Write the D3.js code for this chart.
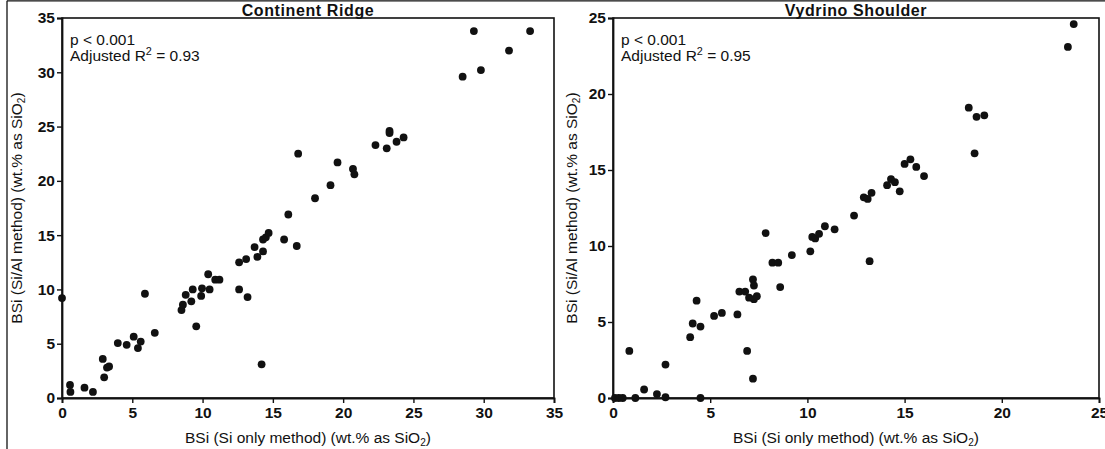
<!DOCTYPE html>
<html>
<head>
<meta charset="utf-8">
<script src="https://cdn.jsdelivr.net/npm/d3@7"></script>
<style>
  html, body { margin: 0; padding: 0; background: #fff; }
  svg { display: block; font-family: "Liberation Sans", Arial, Helvetica, sans-serif; }
</style>
</head>
<body>
<svg id="chart" width="1105" height="449"></svg>
<script>
// BSi measured by the Si-only method (x) vs the Si/Al method (y), wt.% as SiO2
const ridgeSiOnly = [0, 0.57, 0.6, 1.6, 2.2, 3.0, 2.9, 3.35, 3.2, 3.97, 4.6, 5.1, 5.6, 5.4, 5.9, 6.6,
  8.5, 8.6, 8.8, 9.2, 9.3, 9.55, 9.9, 9.96, 10.4, 10.5, 10.9, 11.2, 12.6, 13.1, 12.6, 13.2,
  13.7, 13.9, 14.3, 14.2, 14.3, 14.5, 14.7, 15.8, 16.1, 16.7, 16.8, 18.0, 19.1, 19.6, 20.7,
  20.8, 22.3, 23.1, 23.3, 23.3, 23.8, 24.3, 28.5, 29.3, 29.8, 31.8, 33.3];
const ridgeSiAl = [9.2, 1.2, 0.56, 0.95, 0.56, 1.9, 3.6, 2.9, 2.8, 5.06, 4.9, 5.65, 5.2, 4.6, 9.6, 6.0,
  8.1, 8.6, 9.5, 8.9, 10.0, 6.6, 9.4, 10.1, 11.4, 10.0, 10.9, 10.9, 12.5, 12.8, 10.0, 9.3,
  13.9, 13.0, 13.5, 3.1, 14.6, 14.8, 15.2, 14.6, 16.9, 14.0, 22.5, 18.4, 19.6, 21.7, 21.1,
  20.6, 23.3, 23.0, 24.6, 24.4, 23.6, 24.0, 29.6, 33.8, 30.2, 32.0, 33.8];

const vydrinoSiOnly = [0.1, 0.3, 0.5, 0.84, 1.15, 1.6, 2.26, 2.7, 2.7, 3.97, 4.1, 4.3, 4.5, 4.5, 5.2,
  5.6, 6.4, 6.5, 6.8, 6.9, 7.0, 7.2, 7.2, 7.25, 7.25, 7.4, 7.85, 8.2, 8.5, 8.6, 9.2, 10.15,
  10.25, 10.4, 10.6, 10.9, 11.4, 12.4, 12.9, 13.1, 13.3, 13.2, 14.1, 14.3, 14.5, 14.75, 15.0,
  15.3, 15.6, 16.0, 18.3, 18.6, 18.7, 19.1, 23.4, 23.7];
const vydrinoSiAl = [0, 0, 0, 3.1, 0, 0.56, 0.26, 0.05, 2.2, 4.0, 4.9, 6.4, 4.7, 0, 5.4,
  5.6, 5.5, 7.0, 7.0, 3.1, 6.6, 1.27, 7.8, 7.4, 6.5, 6.7, 10.85, 8.9, 8.9, 7.3, 9.4, 9.65,
  10.6, 10.5, 10.8, 11.3, 11.1, 12.0, 13.2, 13.1, 13.5, 9.0, 14.0, 14.4, 14.2, 13.6, 15.4,
  15.7, 15.2, 14.6, 19.1, 16.1, 18.5, 18.6, 23.1, 24.6];

const panelTitles = ["Continent Ridge", "Vydrino Shoulder"];
const ridgeTicks = [0, 5, 10, 15, 20, 25, 30, 35];
const vydrinoTicks = [0, 5, 10, 15, 20, 25];
const pLabel = "p < 0.001";
const adjR2 = ["0.93", "0.95"];

const svg = d3.select("#chart");
const ink = "#111";

// outer frame (top and left edges)
svg.append("line").attr("x1", 7).attr("x2", 1105).attr("y1", 0.8).attr("y2", 0.8)
  .attr("stroke", ink).attr("stroke-width", 1.3);
svg.append("line").attr("x1", 7).attr("x2", 7).attr("y1", 0.8).attr("y2", 449)
  .attr("stroke", ink).attr("stroke-width", 1.3);

const panels = [
  { title: panelTitles[0], xs: ridgeSiOnly, ys: ridgeSiAl, ticks: ridgeTicks, max: 35,
    left: 62, right: 554, r2: adjR2[0], yTitleX: 22 },
  { title: panelTitles[1], xs: vydrinoSiOnly, ys: vydrinoSiAl, ticks: vydrinoTicks, max: 25,
    left: 613, right: 1099, r2: adjR2[1], yTitleX: 577 }
];
const plotTop = 18, plotBottom = 398;

function addSiO2(textSel, before, after) {
  textSel.append("tspan").text(before + "SiO");
  textSel.append("tspan").attr("font-size", "0.65em").attr("dy", 3).text("2");
  textSel.append("tspan").attr("dy", -3).text(after);
}

panels.forEach(p => {
  const x = d3.scaleLinear().domain([0, p.max]).range([p.left, p.right]);
  const y = d3.scaleLinear().domain([0, p.max]).range([plotBottom, plotTop]);
  const g = svg.append("g");

  // plot box
  g.append("rect").attr("x", p.left).attr("y", plotTop)
    .attr("width", p.right - p.left).attr("height", plotBottom - plotTop)
    .attr("fill", "none").attr("stroke", ink).attr("stroke-width", 1.6);

  const xAxis = g.append("g").attr("transform", `translate(0,${plotBottom})`)
    .call(d3.axisBottom(x).tickValues(p.ticks).tickSize(5).tickPadding(4).tickFormat(d3.format("d")));
  const yAxis = g.append("g").attr("transform", `translate(${p.left},0)`)
    .call(d3.axisLeft(y).tickValues(p.ticks).tickSize(5).tickPadding(2).tickFormat(d3.format("d")));
  [xAxis, yAxis].forEach(a => {
    a.select(".domain").attr("stroke", ink).attr("stroke-width", 1.8);
    a.selectAll(".tick line").attr("stroke", ink).attr("stroke-width", 1.4);
    a.selectAll(".tick text").attr("fill", ink).attr("font-size", 15.5)
      .attr("font-family", "'Liberation Sans', Arial, sans-serif").attr("font-weight", "bold");
  });

  // panel title
  g.append("text").attr("x", (p.left + p.right) / 2).attr("y", 15.5)
    .attr("text-anchor", "middle").attr("font-size", 16).attr("font-weight", "bold")
    .attr("letter-spacing", 0.6).attr("fill", ink).text(p.title);

  // x axis title
  const xt = g.append("text").attr("x", (p.left + p.right) / 2).attr("y", 443)
    .attr("text-anchor", "middle").attr("font-size", 15.5).attr("fill", ink);
  addSiO2(xt, "BSi (Si only method) (wt.% as ", ")");

  // y axis title
  const yt = g.append("text")
    .attr("transform", `translate(${p.yTitleX},${(plotTop + plotBottom) / 2}) rotate(-90)`)
    .attr("text-anchor", "middle").attr("font-size", 15.5).attr("fill", ink);
  addSiO2(yt, "BSi (Si/Al method) (wt.% as ", ")");

  // regression statistics
  g.append("text").attr("x", p.left + 8).attr("y", 45)
    .attr("font-size", 15.5).attr("fill", ink).text(pLabel);
  const r = g.append("text").attr("x", p.left + 8).attr("y", 61)
    .attr("font-size", 15.5).attr("fill", ink);
  r.append("tspan").text("Adjusted R");
  r.append("tspan").attr("font-size", "0.7em").attr("dy", -6).text("2");
  r.append("tspan").attr("dy", 6).text(" = " + p.r2);

  // samples
  g.append("g").selectAll("circle").data(p.xs.map((v, i) => [v, p.ys[i]]))
    .join("circle")
    .attr("cx", d => x(d[0])).attr("cy", d => y(d[1]))
    .attr("r", 3.9).attr("fill", ink);
});
</script>
</body>
</html>
